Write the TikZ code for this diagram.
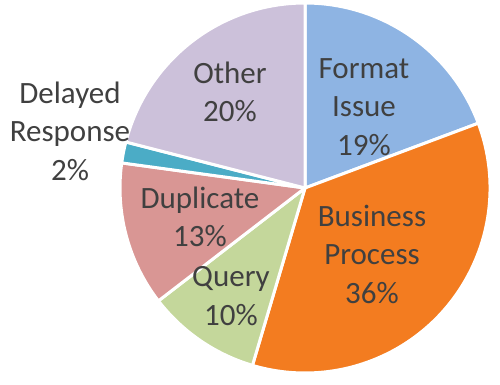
\documentclass[tikz,border=0pt]{standalone}
\usepackage{fontspec}
\setmainfont{Carlito}
\usetikzlibrary{positioning}

\definecolor{fmtblue}{HTML}{8EB4E3}
\definecolor{busorange}{HTML}{F37C20}
\definecolor{qrygreen}{HTML}{C4D79B}
\definecolor{duppink}{HTML}{D99694}
\definecolor{dlyteal}{HTML}{4BACC6}
\definecolor{othlilac}{HTML}{CCC1DA}
\definecolor{labelgray}{HTML}{404040}

\tikzset{
  wedge/.style={draw=white, line width=3pt, line join=round},
  lbl/.style={text=labelgray, align=center, anchor=base, inner sep=0pt,
    font=\fontsize{31}{38.4}\selectfont},
}

% slice: colour, start angle, end angle
\newcommand{\pieslice}[3]{%
  \filldraw[wedge, fill=#1] (ctr) -- ([shift={(#2:185)}]ctr)
    arc[start angle=#2, end angle=#3, radius=185] -- cycle;%
}

\begin{document}
\begin{tikzpicture}[x=1pt, y=1pt]

  \useasboundingbox (0,0) rectangle (500,384);

  % Centre of the pie
  \coordinate (ctr) at (305,196);

  % Slices
  \pieslice{fmtblue}{90}{20.5} %
  \pieslice{busorange}{20.5}{-106.5} %
  \pieslice{qrygreen}{-106.5}{-142.4} %
  \pieslice{duppink}{-142.4}{-187.8} %
  \pieslice{dlyteal}{172.2}{165.6} %
  \pieslice{othlilac}{165.6}{90} %

  % Labels (anchored on the last line)
  \node[lbl] (fmt) at (364,229)   {Format\\Issue\\19\%}; %
  \node[lbl] (bus) at (372,80.7)  {Business\\Process\\36\%}; %
  \node[lbl] (qry) at (231,59)    {Query\\10\%}; %
  \node[lbl] (dup) at (200,137.3) {Duplicate\\13\%}; %
  \node[lbl] (dly) at (70,204)    {Delayed\\Response\\2\%}; %
  \node[lbl] (oth) at (230,262.3) {Other\\20\%}; %

\end{tikzpicture}
\end{document}
